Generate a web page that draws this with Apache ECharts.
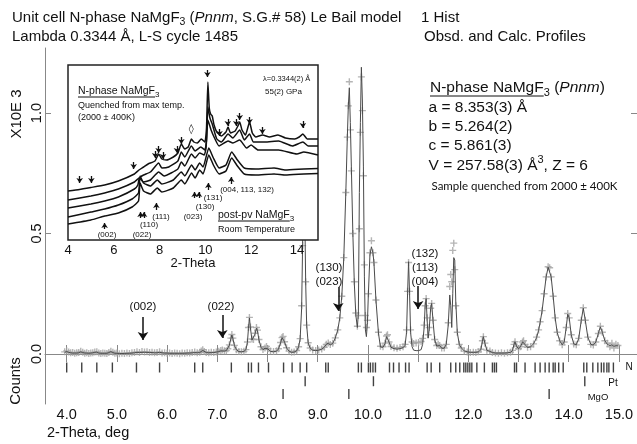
<!DOCTYPE html>
<html>
<head>
<meta charset="utf-8">
<script src="https://cdn.jsdelivr.net/npm/echarts@6/dist/echarts.min.js"></script>
<style>
  html, body { margin: 0; padding: 0; background: #fff; }
  #chart { width: 637px; height: 444px; }
</style>
</head>
<body>
<div id="chart"></div>
<script>
// [2-theta, observed, calculated]  (counts x 10^3)
const profile = [
  [3.96,0.009,0.007],[4.00,0.013,0.010],[4.04,0.008,0.007],[4.08,0.005,0.005],[4.12,0.006,0.004],
  [4.16,0.003,0.004],[4.20,0.005,0.004],[4.24,0.006,0.005],[4.28,0.011,0.009],[4.32,0.007,0.006],
  [4.36,0.003,0.004],[4.40,0.005,0.004],[4.44,0.002,0.003],[4.48,0.004,0.004],[4.52,0.005,0.005],
  [4.56,0.008,0.007],[4.60,0.009,0.008],[4.64,0.004,0.004],[4.68,0.002,0.003],[4.72,0.004,0.003],
  [4.76,0.003,0.003],[4.80,0.002,0.003],[4.84,0.006,0.006],[4.88,0.011,0.010],[4.92,0.007,0.006],
  [4.96,0.003,0.003],[5.00,0.004,0.003],[5.05,0.001,0.002],[5.10,0.003,0.002],[5.15,0.002,0.002],
  [5.20,0.004,0.003],[5.25,0.002,0.003],[5.30,0.005,0.004],[5.35,0.006,0.005],[5.40,0.009,0.007],
  [5.45,0.006,0.006],[5.50,0.010,0.007],[5.55,0.008,0.007],[5.60,0.009,0.007],[5.65,0.006,0.006],
  [5.70,0.007,0.006],[5.75,0.005,0.005],[5.80,0.006,0.005],[5.85,0.009,0.007],[5.90,0.004,0.005],
  [5.95,0.005,0.004],[6.00,0.003,0.004],[6.05,0.004,0.003],[6.10,0.002,0.003],[6.15,0.004,0.003],
  [6.20,0.003,0.003],[6.25,0.001,0.003],[6.30,0.004,0.003],[6.35,0.003,0.003],[6.40,0.005,0.004],
  [6.45,0.004,0.004],[6.50,0.006,0.005],[6.55,0.008,0.006],[6.60,0.005,0.005],[6.65,0.007,0.006],
  [6.68,0.012,0.010],[6.71,0.018,0.015],[6.74,0.010,0.009],[6.78,0.006,0.006],[6.83,0.005,0.005],
  [6.88,0.007,0.006],[6.93,0.006,0.006],[6.98,0.008,0.008],[7.03,0.011,0.010],[7.07,0.015,0.013],
  [7.10,0.017,0.015],[7.14,0.013,0.012],[7.18,0.014,0.014],[7.21,0.022,0.022],[7.24,0.038,0.036],
  [7.27,0.066,0.063],[7.29,0.081,0.079],[7.31,0.066,0.064],[7.34,0.036,0.036],[7.38,0.018,0.018],
  [7.43,0.010,0.010],[7.48,0.009,0.009],[7.53,0.011,0.011],[7.57,0.018,0.018],[7.60,0.050,0.048],
  [7.62,0.110,0.105],[7.64,0.152,0.150],[7.66,0.112,0.108],[7.69,0.062,0.058],[7.72,0.060,0.056],
  [7.75,0.086,0.082],[7.78,0.110,0.107],[7.80,0.099,0.097],[7.83,0.060,0.058],[7.87,0.030,0.028],
  [7.91,0.019,0.018],[7.95,0.025,0.024],[7.98,0.031,0.030],[8.01,0.022,0.021],[8.06,0.012,0.011],
  [8.12,0.010,0.009],[8.18,0.013,0.012],[8.22,0.022,0.021],[8.26,0.048,0.046],[8.29,0.068,0.068],
  [8.31,0.073,0.072],[8.34,0.051,0.050],[8.38,0.026,0.025],[8.43,0.012,0.012],[8.48,0.007,0.007],
  [8.53,0.008,0.008],[8.58,0.014,0.013],[8.62,0.030,0.030],[8.65,0.064,0.062],[8.68,0.200,0.190],
  [8.70,0.450,0.460],[8.72,0.760,0.780],[8.74,0.620,0.640],[8.76,0.300,0.300],[8.78,0.120,0.120],
  [8.81,0.047,0.046],[8.85,0.025,0.024],[8.90,0.017,0.016],[8.96,0.015,0.014],[9.02,0.017,0.016],
  [9.08,0.021,0.020],[9.13,0.028,0.028],[9.17,0.040,0.040],[9.21,0.046,0.045],[9.25,0.039,0.038],
  [9.30,0.045,0.044],[9.35,0.067,0.066],[9.40,0.100,0.100],[9.44,0.150,0.150],[9.48,0.240,0.240],
  [9.52,0.400,0.400],[9.56,0.670,0.670],[9.59,0.900,0.900],[9.61,1.030,1.030],[9.63,1.130,1.105],
  [9.65,0.930,0.960],[9.67,0.760,0.780],[9.70,0.500,0.500],[9.73,0.300,0.290],[9.76,0.170,0.160],
  [9.79,0.115,0.110],[9.81,0.160,0.170],[9.83,0.520,0.670],[9.85,0.920,0.960],[9.87,1.150,1.190],
  [9.89,1.010,1.050],[9.91,0.740,0.780],[9.93,0.370,0.320],[9.95,0.160,0.100],[9.97,0.110,0.072],
  [9.99,0.140,0.130],[10.01,0.250,0.253],[10.04,0.420,0.410],[10.07,0.470,0.445],[10.10,0.420,0.420],
  [10.12,0.380,0.380],[10.16,0.224,0.224],[10.21,0.090,0.087],[10.25,0.032,0.029],[10.30,0.030,0.028],
  [10.34,0.045,0.042],[10.37,0.075,0.072],[10.39,0.080,0.079],[10.42,0.050,0.050],[10.46,0.031,0.028],
  [10.52,0.026,0.022],[10.58,0.024,0.020],[10.64,0.027,0.022],[10.70,0.030,0.026],[10.74,0.040,0.036],
  [10.77,0.100,0.090],[10.79,0.260,0.250],[10.81,0.380,0.383],[10.83,0.260,0.250],[10.85,0.100,0.090],
  [10.88,0.050,0.030],[10.91,0.044,0.016],[10.96,0.046,0.014],[11.01,0.048,0.014],[11.06,0.052,0.018],
  [11.09,0.065,0.040],[11.12,0.120,0.110],[11.14,0.200,0.200],[11.16,0.230,0.230],[11.18,0.150,0.140],
  [11.20,0.080,0.066],[11.22,0.110,0.100],[11.25,0.190,0.190],[11.27,0.210,0.210],[11.30,0.140,0.130],
  [11.33,0.060,0.060],[11.37,0.035,0.033],[11.40,0.040,0.037],[11.43,0.035,0.035],[11.47,0.025,0.024],
  [11.52,0.025,0.024],[11.56,0.040,0.040],[11.60,0.130,0.120],[11.63,0.280,0.245],[11.65,0.330,0.200],
  [11.67,0.300,0.110],[11.69,0.430,0.250],[11.71,0.460,0.400],[11.73,0.350,0.390],[11.75,0.200,0.220],
  [11.78,0.090,0.090],[11.82,0.040,0.040],[11.86,0.025,0.025],[11.92,0.012,0.013],[11.98,0.008,0.009],
  [12.04,0.006,0.007],[12.10,0.007,0.007],[12.15,0.006,0.007],[12.20,0.009,0.009],[12.25,0.020,0.018],
  [12.28,0.055,0.052],[12.30,0.072,0.072],[12.33,0.045,0.045],[12.37,0.016,0.015],[12.43,0.012,0.011],
  [12.48,0.006,0.006],[12.54,0.004,0.004],[12.60,0.003,0.004],[12.66,0.005,0.004],[12.72,0.003,0.004],
  [12.78,0.005,0.005],[12.84,0.007,0.007],[12.88,0.015,0.014],[12.91,0.040,0.040],[12.93,0.051,0.051],
  [12.96,0.032,0.032],[13.00,0.022,0.022],[13.04,0.030,0.030],[13.08,0.050,0.050],[13.10,0.055,0.055],
  [13.13,0.040,0.040],[13.18,0.028,0.027],[13.24,0.030,0.030],[13.30,0.042,0.042],[13.36,0.070,0.068],
  [13.40,0.100,0.098],[13.43,0.134,0.130],[13.47,0.180,0.180],[13.51,0.250,0.250],[13.55,0.320,0.320],
  [13.59,0.362,0.360],[13.62,0.358,0.363],[13.65,0.320,0.320],[13.69,0.240,0.240],[13.73,0.150,0.150],
  [13.77,0.090,0.090],[13.82,0.055,0.055],[13.87,0.038,0.038],[13.91,0.050,0.050],[13.95,0.110,0.110],
  [13.98,0.168,0.165],[14.01,0.150,0.150],[14.05,0.080,0.080],[14.10,0.042,0.042],[14.15,0.038,0.038],
  [14.20,0.065,0.065],[14.25,0.140,0.140],[14.29,0.192,0.190],[14.33,0.140,0.140],[14.38,0.070,0.070],
  [14.44,0.040,0.040],[14.49,0.037,0.037],[14.54,0.050,0.050],[14.59,0.085,0.085],[14.63,0.115,0.113],
  [14.67,0.090,0.090],[14.72,0.055,0.055],[14.77,0.045,0.040],[14.82,0.030,0.035],[14.86,0.045,0.038],
  [14.90,0.025,0.032],[14.94,0.040,0.034],[14.98,0.035,0.034]
];

// reflection positions (2-theta) per phase
const nPhaseTicks = [4.00,4.30,4.60,4.91,5.39,5.85,6.55,6.71,7.28,7.62,7.68,7.82,8.02,8.32,8.49,8.65,8.78,
  9.16,9.21,9.81,9.87,10.01,10.05,10.10,10.15,10.43,10.51,10.62,10.75,10.82,11.18,11.26,11.43,11.65,
  11.75,11.83,11.91,11.95,11.99,12.03,12.07,12.17,12.32,12.48,12.52,12.56,12.92,12.96,13.13,13.33,
  13.43,13.53,13.61,13.69,13.73,13.80,13.89,14.30,14.36,14.48,14.58,14.65,14.70,14.76,14.80,14.89];
const ptTicks = [8.75, 10.11, 14.32];
const mgoTicks = [8.31, 9.62, 13.61];
const tickRowY = { n: -0.056, pt: -0.113, mgo: -0.166 };

// arrows in main plot: [2-theta, top, tip]
const mainArrows = [[5.52, 0.154, 0.058], [7.10, 0.162, 0.066], [9.41, 0.278, 0.178], [11.00, 0.282, 0.187]];

const xTicks = [4, 5, 6, 7, 8, 9, 10, 11, 12, 13, 14, 15];
const yTicks = [0, 0.5, 1.0];
const insetXTicks = [4, 6, 8, 10, 12, 14];

// inset traces (2-theta, offset intensity)
const trace1 = [[4.0,49],[4.5,50.5],[5.0,52.5],[5.6,55],[6.2,59],[6.9,66],[7.1,70],[7.3,73],[7.5,76],[7.8,79],
  [7.96,86],[8.1,81],[8.3,80],[8.6,83],[8.8,87],[8.95,96],[9.1,91],[9.25,93],[9.39,101],[9.5,98],[9.65,97],
  [9.82,101],[9.98,98],[10.05,112],[10.11,158],[10.17,132],[10.23,126],[10.3,124],[10.38,115],[10.5,108],
  [10.7,104],[10.9,108],[10.99,113],[11.1,107],[11.3,109],[11.42,114],[11.5,118],[11.6,110],[11.75,105],
  [11.93,118],[12.05,107],[12.2,103],[12.5,105],[12.8,103],[13.17,105],[13.5,102],[13.9,101],[14.1,103],
  [14.26,106],[14.45,101],[14.92,101]];
const trace2 = [[4.0,40],[5.0,44],[5.6,47],[6.2,51],[6.9,58],[7.1,62],[7.3,65],[7.6,68],[7.96,77],[8.1,72],
  [8.4,73],[8.8,79],[8.95,88],[9.1,83],[9.39,94],[9.55,89],[9.8,93],[9.98,90],[10.05,100],[10.11,133],
  [10.2,122],[10.3,116],[10.5,101],[10.7,98],[10.99,106],[11.2,102],[11.5,110],[11.7,100],[11.93,106],
  [12.1,98],[12.6,98],[13.2,99],[13.8,94],[14.26,98],[14.5,94],[14.92,94]];
const trace3 = [[4.0,32],[5.0,36],[5.6,39],[6.2,43],[6.9,51],[7.05,55],[7.12,62],[7.3,58],[7.6,60],[7.96,68],
  [8.2,64],[8.8,71],[8.95,78],[9.1,74],[9.39,86],[9.55,82],[9.75,87],[9.95,85],[10.03,92],[10.11,120],
  [10.25,110],[10.4,102],[10.6,94],[10.99,99],[11.2,97],[11.5,100],[11.8,92],[12.0,95],[12.3,90],
  [13.2,90],[14.0,86],[14.3,88],[14.92,85]];
const trace4 = [[4.0,23],[5.0,28],[5.6,31],[6.2,35],[6.8,41],[7.08,47],[7.15,64],[7.3,57],[7.6,54],[7.9,60],
  [8.1,56],[8.6,60],[8.95,68],[9.1,64],[9.4,75],[9.55,70],[9.75,77],[9.9,73],[10.15,92],[10.35,82],
  [10.6,72],[10.9,75],[11.15,88],[11.4,80],[11.7,72],[12.2,71],[13.0,72],[13.5,70],[14.3,71],[14.92,71.5]];
const trace5 = [[4.0,16],[5.0,20],[5.6,24],[6.2,27],[6.8,33],[7.08,39],[7.15,57],[7.3,49],[7.6,46],[7.9,52],
  [8.1,48],[8.6,52],[8.95,60],[9.1,56],[9.4,67],[9.55,62],[9.75,70],[9.9,66],[10.15,85],[10.35,75],
  [10.6,66],[10.9,69],[11.15,82],[11.4,74],[11.7,66],[12.2,65],[13.0,66],[13.5,65],[14.3,66],[14.92,66.5]];

// inset arrows: [2-theta, from, to]
const insetDownArrows = [[4.51,64,57],[5.02,64,57],[6.87,78,71],[7.81,89,82],[7.96,94,87],[8.15,88,81],
  [8.76,94,87],[8.95,103,96],[10.09,170,163],[10.62,111,104],[10.98,121,114],[11.35,121,114],
  [11.5,127,120],[11.93,123,116],[12.49,113,106],[14.26,119,112]];
const insetUpArrows = [[5.6,11,17],[7.17,22,28],[7.32,22,28],[7.86,30,37],[9.53,42,48],[9.72,42,48],
  [10.13,50,57],[11.13,56,63]];

const SANS = '"Liberation Sans", Arial, sans-serif';
const PLUS = 'path://M4,0H6V4H10V6H6V10H4V6H0V4H4Z';

const ctx = document.createElement('canvas').getContext('2d');
// lay out text pieces one after another (for sub/superscripts and italics)
function runs (x, y, parts) {
  const els = [];
  let cx = x;
  parts.forEach(p => {
    const font = p[1];
    ctx.font = font;
    els.push({
      type: 'text', x: cx, y: y + (p[2] || 0), z: 100, silent: true,
      style: { text: p[0], font: font, fill: '#111', verticalAlign: 'middle' }
    });
    cx += ctx.measureText(p[0]).width;
  });
  return { els, end: cx };
}
function txt (x, y, text, size, align, family, rot) {
  return {
    type: 'text', x, y, z: 100, silent: true, rotation: rot || 0,
    style: { text, font: size + 'px ' + (family || SANS), fill: '#111', align: align || 'left', verticalAlign: 'middle' }
  };
}
function uline (x1, x2, y) {
  return { type: 'line', z: 100, silent: true, shape: { x1, y1: y, x2, y2: y }, style: { stroke: '#111', lineWidth: 1 } };
}

const f = s => s + 'px ' + SANS;
const fi = s => 'italic ' + s + 'px ' + SANS;
const graphics = [];
graphics.push(...runs(12, 18, [['Unit cell N-phase NaMgF', f(15)], ['3', f(10.5), 4], [' (', f(15)],
  ['Pnnm', fi(15)], [', S.G.# 58) Le Bail model', f(15)]]).els);
graphics.push(txt(421, 18, '1 Hist', 15));
graphics.push(txt(12, 37, 'Lambda 0.3344 Å, L-S cycle 1485', 15));
graphics.push(txt(424, 37, 'Obsd. and Calc. Profiles', 15));

// cell parameter block
graphics.push(...runs(430, 88, [['N-phase NaMgF', f(15.5)], ['3', f(11), 5], [' (', f(15.5)], ['Pnnm', fi(15.5)], [')', f(15.5)]]).els);
ctx.font = f(15.5);
graphics.push(uline(430, 430 + ctx.measureText('N-phase NaMgF').width, 96));
graphics.push(txt(428.5, 108, 'a = 8.353(3) Å', 15.5));
graphics.push(txt(428.5, 127, 'b = 5.264(2)', 15.5));
graphics.push(txt(428.5, 146, 'c = 5.861(3)', 15.5));
graphics.push(...runs(428.5, 166, [['V = 257.58(3) Å', f(15.5)], ['3', f(11), -6], [', Z = 6', f(15.5)]]).els);
graphics.push(txt(431.5, 186, 'Sample quenched from 2000 ± 400K', 11.5, 'left', 'Lato, sans-serif'));

// axis names
graphics.push(txt(17, 114, 'X10E 3', 15, 'center', SANS, Math.PI / 2));
graphics.push(txt(16, 381, 'Counts', 15, 'center', SANS, Math.PI / 2));
graphics.push(txt(47, 433, '2-Theta, deg', 14.5));
graphics.push(txt(629, 367, 'N', 10, 'center'));
graphics.push(txt(613, 383, 'Pt', 10, 'center'));
graphics.push(txt(598, 397, 'MgO', 9.5, 'center'));

// main reflection labels
[['(002)', 143, 307], ['(022)', 221, 307], ['(130)', 329, 268], ['(023)', 329, 282],
 ['(132)', 425, 254], ['(113)', 425, 268], ['(004)', 425, 282]].forEach(l => graphics.push(txt(l[1], l[2], l[0], 11.5, 'center')));

// inset texts
graphics.push(...runs(78, 91, [['N-phase NaMgF', f(10.5)], ['3', f(8), 3.5]]).els);
ctx.font = f(10.5);
graphics.push(uline(78, 78 + ctx.measureText('N-phase NaMgF').width, 97));
graphics.push(txt(78, 105.5, 'Quenched from max temp.', 9));
graphics.push(txt(78, 117.5, '(2000 ± 400K)', 9));
graphics.push(txt(263, 79, 'λ=0.3344(2) Å', 7.5));
graphics.push(txt(265, 92, '55(2) GPa', 8));
graphics.push(...runs(218, 215, [['post-pv NaMgF', f(10.5)], ['3', f(8), 3.5]]).els);
ctx.font = f(10.5);
graphics.push(uline(218, 218 + ctx.measureText('post-pv NaMgF').width, 221));
graphics.push(txt(218, 230, 'Room Temperature', 9));
graphics.push(txt(191.3, 129, '◊', 10, 'center', '"DejaVu Sans", sans-serif'));
[['(002)', 107, 235], ['(022)', 142, 235], ['(110)', 149, 225], ['(111)', 161, 217], ['(023)', 193, 217],
 ['(130)', 205, 207], ['(131)', 213, 198], ['(004, 113, 132)', 247, 190]].forEach(l => graphics.push(txt(l[1], l[2], l[0], 8, 'center')));
graphics.push(txt(193, 263, '2-Theta', 13, 'center'));

const chart = echarts.init(document.getElementById('chart'), null, { renderer: 'canvas' });

const axisGray = '#888';
const insetTrace = (d) => ({
  type: 'line', data: d, xAxisIndex: 2, yAxisIndex: 2, showSymbol: false, smooth: 0.15,
  lineStyle: { color: '#111', width: 1.5 }, z: 12, silent: true
});
const tickRow = (xs, y) => ({
  type: 'scatter', data: xs.map(x => [x, y]), symbol: 'rect', symbolSize: [1.4, 10],
  itemStyle: { color: '#111' }, z: 3, silent: true
});

chart.setOption({
  animation: false,
  backgroundColor: '#fff',
  grid: [
    { left: 45, top: 48, right: 0, bottom: 40 },
    { left: 68, top: 65, width: 250, height: 175, show: true, backgroundColor: '#fff', borderColor: '#222', borderWidth: 1.5, z: 10 }
  ],
  xAxis: [
    {
      type: 'value', gridIndex: 0, min: 3.568, max: 15.36,
      axisLine: { lineStyle: { color: axisGray } },
      axisTick: { inside: true, length: 9, customValues: xTicks, lineStyle: { color: axisGray } },
      axisLabel: { customValues: xTicks, formatter: v => v.toFixed(1), fontSize: 14.5, fontFamily: SANS, color: '#111', margin: 3 },
      splitLine: { show: false }
    },
    {
      type: 'value', gridIndex: 0, position: 'top', min: 3.568, max: 15.36,
      axisLine: { show: false },
      axisTick: { inside: true, length: 8, customValues: xTicks, lineStyle: { color: axisGray } },
      axisLabel: { show: false }, splitLine: { show: false }
    },
    {
      type: 'value', gridIndex: 1, min: 4, max: 14.92, z: 11,
      axisLine: { show: false }, axisTick: { show: false }, splitLine: { show: false },
      axisLabel: { customValues: insetXTicks, fontSize: 13, fontFamily: SANS, color: '#111', margin: 4, showMinLabel: true }
    }
  ],
  yAxis: [
    {
      type: 'value', gridIndex: 0, min: -0.2075, max: 1.27,
      axisLine: { show: true, lineStyle: { color: axisGray } },
      axisTick: { show: true, inside: true, length: 6, customValues: yTicks, lineStyle: { color: axisGray } },
      axisLabel: { rotate: 90, customValues: yTicks, formatter: v => v.toFixed(1), fontSize: 14.5, fontFamily: SANS, color: '#111', margin: 1 },
      splitLine: { show: false }
    },
    {
      type: 'value', gridIndex: 0, position: 'right', min: -0.2075, max: 1.27,
      axisLine: { show: false },
      axisTick: { show: true, inside: true, length: 6, customValues: yTicks, lineStyle: { color: axisGray } },
      axisLabel: { show: false }, splitLine: { show: false }
    },
    { type: 'value', gridIndex: 1, min: 0, max: 175, show: false }
  ],
  series: [
    {
      name: 'Obsd', type: 'scatter', data: profile.map(p => [p[0], p[1]]),
      symbol: PLUS, symbolSize: 7, itemStyle: { color: '#a2a2a2' }, z: 2, silent: true
    },
    {
      name: 'Calc', type: 'line', data: profile.map(p => [p[0], p[2]]), showSymbol: false,
      lineStyle: { color: '#4a4a4a', width: 1 }, z: 3, silent: true
    },
    tickRow(nPhaseTicks, tickRowY.n),
    tickRow(ptTicks, tickRowY.pt),
    tickRow(mgoTicks, tickRowY.mgo),
    {
      type: 'lines', coordinateSystem: 'cartesian2d', xAxisIndex: 0, yAxisIndex: 0, z: 4, silent: true,
      symbol: ['none', 'arrow'], symbolSize: [0, 8],
      lineStyle: { color: '#111', width: 1.5, opacity: 1 },
      data: mainArrows.map(a => ({ coords: [[a[0], a[1]], [a[0], a[2]]] }))
    },
    insetTrace(trace1), insetTrace(trace2), insetTrace(trace3), insetTrace(trace4), insetTrace(trace5),
    {
      type: 'lines', coordinateSystem: 'cartesian2d', xAxisIndex: 2, yAxisIndex: 2, z: 13, silent: true,
      symbol: ['none', 'arrow'], symbolSize: [0, 5],
      lineStyle: { color: '#111', width: 1.3, opacity: 1 },
      data: insetDownArrows.concat(insetUpArrows).map(a => ({ coords: [[a[0], a[1]], [a[0], a[2]]] }))
    }
  ],
  graphic: { elements: graphics }
});
</script>
</body>
</html>
